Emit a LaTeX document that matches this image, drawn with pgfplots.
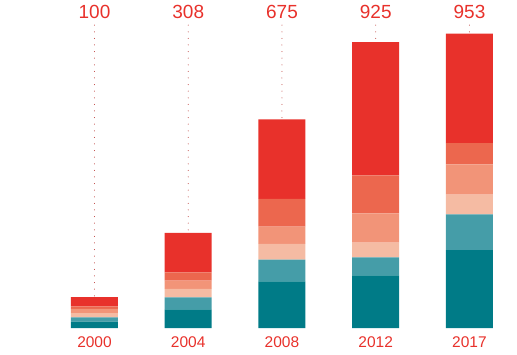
\documentclass[border=0pt]{standalone}
\usepackage{pgfplots}
\pgfplotsset{compat=1.18}
\usepackage{fontspec}
\setmainfont{Liberation Sans}
\definecolor{cDark}{HTML}{007B87}
\definecolor{cTeal}{HTML}{459DA8}
\definecolor{cPeach}{HTML}{F5BBA3}
\definecolor{cSalmon}{HTML}{F29478}
\definecolor{cOrange}{HTML}{EC674E}
\definecolor{cRed}{HTML}{E8312B}
\definecolor{cLab}{HTML}{E8312B}
\definecolor{cDot}{HTML}{B8322E}
\begin{document}
\begin{tikzpicture}
\useasboundingbox (0,-26pt) rectangle (517pt,328pt);
\begin{axis}[
  at={(0,0)}, anchor=south west,
  scale only axis,
  width=517pt, height=328pt,
  xmin=-1.008, xmax=4.507,
  ymin=0, ymax=1061.5,
  axis line style={draw=none},
  ytick=\empty,
  xtick={0,1,2,3,4},
  xticklabels={2000,2004,2008,2012,2017},
  major tick length=0pt,
  xticklabel style={font=\fontsize{15.5}{16}\selectfont, text=cLab, yshift=-5.5pt},
  ybar stacked,
  bar width=47pt,
  clip=false,
]
\addplot[fill=cDark, draw=none] coordinates {(0,20.5) (1,60) (2,151) (3,170.5) (4,252)};
\addplot[fill=cTeal, draw=none] coordinates {(0,14) (1,39) (2,70) (3,58) (4,115.5)};
\addplot[fill=cPeach, draw=none] coordinates {(0,14) (1,28) (2,51) (3,47.5) (4,64)};
\addplot[fill=cSalmon, draw=none] coordinates {(0,13) (1,26) (2,56) (3,95) (4,98)};
\addplot[fill=cOrange, draw=none] coordinates {(0,8.5) (1,27) (2,89.5) (3,123) (4,69)};
\addplot[fill=cRed, draw=none] coordinates {(0,30) (1,128) (2,257.5) (3,431) (4,354.5)};
\foreach \x/\v in {0/100,1/308,2/675,3/925,4/953}{
  \edef\tmp{\noexpand\draw[cDot, line width=1pt, line cap=round, dash pattern=on 0pt off 6.6pt] (axis cs:\x,980) -- (axis cs:\x,\v);}
  \tmp
  \edef\tmp{\noexpand\node[text=cLab, font=\noexpand\fontsize{19}{20}\noexpand\selectfont] at (axis cs:\x,1022) {\v};}
  \tmp
}
\end{axis}
\end{tikzpicture}
\end{document}
